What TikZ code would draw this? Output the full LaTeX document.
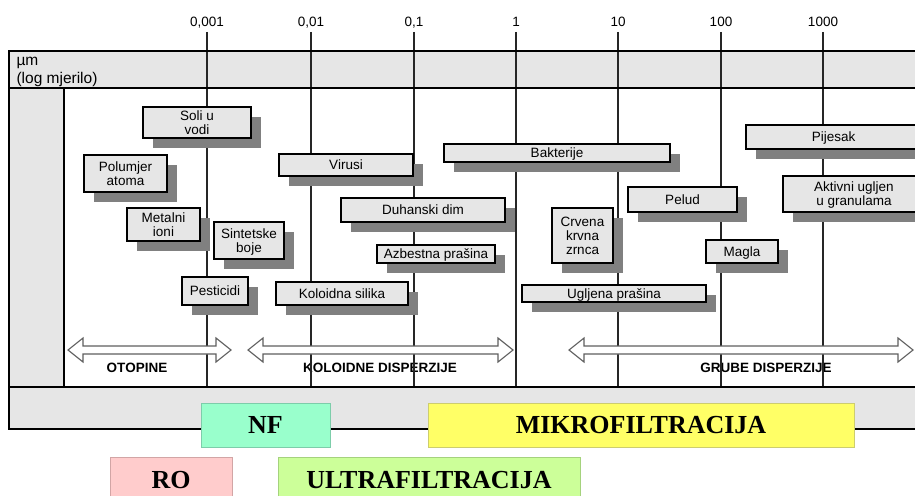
\documentclass[tikz,border=0pt]{standalone}
\usepackage{fontspec}
\setmainfont{Liberation Sans}
\newfontfamily\timesfont{Liberation Serif}
\usepackage{xcolor}
\usetikzlibrary{shadows}

\definecolor{boxgrey}{RGB}{230,230,230}
\definecolor{shadowgrey}{RGB}{128,128,128}
\definecolor{arrowgrey}{RGB}{95,95,95}
\definecolor{nffill}{RGB}{153,255,204}
\definecolor{nfline}{RGB}{125,205,170}
\definecolor{mffill}{RGB}{255,255,102}
\definecolor{mfline}{RGB}{205,205,110}
\definecolor{rofill}{RGB}{255,204,204}
\definecolor{roline}{RGB}{210,165,165}
\definecolor{uffill}{RGB}{204,255,153}
\definecolor{ufline}{RGB}{165,210,125}

\newcommand\lblsize{\fontsize{13.5}{14}\selectfont}
\newcommand\hollowarrow[3]{%
  \draw[arrowline] (#1,#3) -- ++(15,-12) -- ++(0,8) -- (#2-15,#3-4) -- ++(0,-8) -- (#2,#3)
    -- ++(-15,12) -- ++(0,-8) -- (#1+15,#3+4) -- ++(0,8) -- cycle;}

\begin{document}
\begin{tikzpicture}[x=1pt, y=-1pt,
    frame/.style={line width=1.3pt, black},
    gridline/.style={line width=1.2pt, black!85},
    arrowline/.style={line width=1.1pt, draw=arrowgrey, fill=white},
    sizebox/.style={draw=black, line width=1.2pt, fill=boxgrey, inner sep=0pt, align=center,
      text depth=0pt, font=\lblsize,
      general shadow={fill=shadowgrey, shadow xshift=10pt, shadow yshift=-10pt}},
    rangelabel/.style={font=\fontsize{13.5}{14}\selectfont\bfseries},
    method/.style={line width=0.8pt, inner sep=0pt, font=\timesfont\fontsize{26}{28}\selectfont\bfseries}]
    \useasboundingbox (0,0) rectangle (915,495);
    \clip (0,0) rectangle (915,495);

    \fill[boxgrey] (9,51) rectangle (935,88);
    \fill[boxgrey] (9,88) rectangle (64,387);
    \fill[boxgrey] (9,387) rectangle (935,429);
    \node[anchor=base west, font=\fontsize{15.5}{16}\selectfont] (unit) at (13,66) {µm};
    \node[anchor=base west, font=\fontsize{15.5}{16}\selectfont] (scale) at (13,83) {(log mjerilo)};

    \node[rangelabel] (otopine) at (137,367.5) {OTOPINE};
    \node[rangelabel] (koloidne) at (380,367.5) {KOLOIDNE DISPERZIJE};
    \node[rangelabel] (grube) at (766,367.5) {GRUBE DISPERZIJE};

    \foreach \x/\v [count=\i] in {207/{0,001}, 311/{0,01}, 414/{0,1}, 516/1, 618/10, 721/100, 823/1000} {
        \node[anchor=base, font=\lblsize] (val\i) at (\x,27) {\v};
        \draw[gridline] (\x,32) -- (\x,387);
    }

    \draw[frame] (935,51) -- (9,51) -- (9,429) -- (935,429);
    \draw[frame] (9,88) -- (935,88);
    \draw[frame] (9,387) -- (935,387);
    \draw[frame] (64,88) -- (64,387);

    \hollowarrow{68}{231}{350}
    \hollowarrow{248}{513}{350}
    \hollowarrow{569}{913}{350}

    \node[sizebox, minimum width=108, minimum height=31] (soli) at (197,122.5) {Soli u\\vodi};
    \node[sizebox, minimum width=83, minimum height=37] (polumjer) at (125.5,173.5) {Polumjer\\atoma};
    \node[sizebox, minimum width=73, minimum height=33] (metalni) at (163.5,224.5) {Metalni\\ioni};
    \node[sizebox, minimum width=70, minimum height=37] (sintetske) at (249,240.5) {Sintetske\\boje};
    \node[sizebox, minimum width=66, minimum height=28] (pesticidi) at (215,291) {Pesticidi};
    \node[sizebox, minimum width=134, minimum height=22] (virusi) at (346,165) {Virusi};
    \node[sizebox, minimum width=164, minimum height=24] (duhan) at (423,210) {Duhanski dim};
    \node[sizebox, minimum width=118, minimum height=18] (azbest) at (436,254) {Azbestna prašina};
    \node[sizebox, minimum width=132, minimum height=23] (koloid) at (342,293.5) {Koloidna silika};
    \node[sizebox, minimum width=226, minimum height=18] (bakterije) at (557,153) {Bakterije};
    \node[sizebox, minimum width=109, minimum height=25] (pelud) at (682.5,199.5) {Pelud};
    \node[sizebox, minimum width=61, minimum height=55] (crvena) at (582.5,235.5) {Crvena\\krvna\\zrnca};
    \node[sizebox, minimum width=72, minimum height=23] (magla) at (742,251.5) {Magla};
    \node[sizebox, minimum width=184, minimum height=17] (ugljena) at (614,293.5) {Ugljena prašina};
    \node[sizebox, minimum width=175, minimum height=24] (pijesak) at (833.5,137) {Pijesak};
    \node[sizebox, minimum width=142, minimum height=36] (aktivni) at (854,194) {Aktivni ugljen\\u granulama};

    \node[method, draw=nfline, fill=nffill, minimum width=129, minimum height=44] (nf) at (265.5,425) {NF};
    \node[method, draw=mfline, fill=mffill, minimum width=426, minimum height=44] (mf) at (641,425) {MIKROFILTRACIJA};
    \draw[roline, fill=rofill, line width=0.8pt] (110,457) rectangle (232,510);
    \node[method, anchor=base] (ro) at (171,488) {RO};
    \draw[ufline, fill=uffill, line width=0.8pt] (278,457) rectangle (580,510);
    \node[method, anchor=base] (uf) at (429,488) {ULTRAFILTRACIJA};
\end{tikzpicture}
\end{document}
